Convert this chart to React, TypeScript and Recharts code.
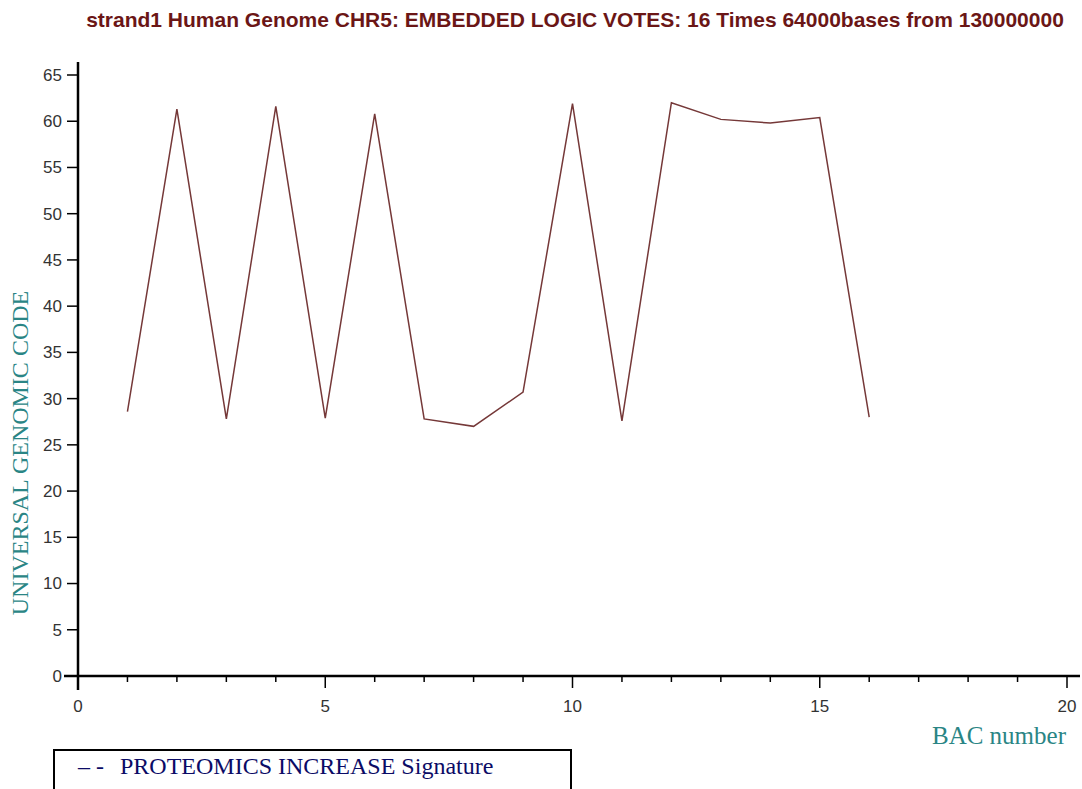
import React from "react";
import { LineChart, Line, XAxis, YAxis, Legend } from "recharts";

// BAC index along the chromosome window, votes
const bacNumbers = [1, 2, 3, 4, 5, 6, 7, 8, 9, 10, 11, 12, 13, 14, 15, 16];
const votes = [
  28.6, 61.3, 27.8, 61.6, 27.9, 60.8, 27.8, 27.0, 30.7, 61.9, 27.6, 62.0,
  60.2, 59.8, 60.4, 28.0,
];

const xTicks = [0, 1, 2, 3, 4, 5, 6, 7, 8, 9, 10, 11, 12, 13, 14, 15, 16, 17, 18, 19, 20];
const yTicks = [0, 5, 10, 15, 20, 25, 30, 35, 40, 45, 50, 55, 60, 65];

const title =
  "strand1 Human Genome CHR5: EMBEDDED LOGIC VOTES: 16 Times 64000bases from 130000000";
const seriesName = "PROTEOMICS INCREASE Signature";

const chartData = bacNumbers.map((bac, i) => ({ bac, votes: votes[i] }));

const tickFont = "'Liberation Sans', Arial, sans-serif";
const serif = "'Liberation Serif', 'Times New Roman', serif";

const XTick = (props: any) => {
  const { x, y, payload } = props;
  const v = payload.value;
  const major = v % 5 === 0;
  return (
    <g>
      <line x1={x} x2={x} y1={y} y2={y + (major ? 12 : 6)} stroke="#000" strokeWidth={1.5} />
      {v === 0 && <line x1={x} x2={x} y1={y} y2={y + 14} stroke="#000" strokeWidth={2.5} />}
      {v === 20 && <line x1={x} x2={x + 13} y1={y} y2={y} stroke="#000" strokeWidth={2.5} />}
      {major && (
        <text x={x} y={y + 36} textAnchor="middle" fill="#333" fontSize={17} fontFamily={tickFont}>
          {v}
        </text>
      )}
    </g>
  );
};

const YTick = (props: any) => {
  const { x, y, payload } = props;
  const v = payload.value;
  return (
    <g>
      <line x1={x - 11} x2={x} y1={y} y2={y} stroke="#000" strokeWidth={1.5} />
      {v === 0 && <line x1={x - 14} x2={x} y1={y} y2={y} stroke="#000" strokeWidth={2.5} />}
      {v === 65 && <line x1={x} x2={x} y1={y} y2={y - 13} stroke="#000" strokeWidth={2.5} />}
      <text x={x - 16} y={y} dy="0.35em" textAnchor="end" fill="#333" fontSize={17} fontFamily={tickFont}>
        {v}
      </text>
    </g>
  );
};

const LegendBox = (props: any) => {
  const item = props.payload && props.payload[0];
  return (
    <div
      style={{
        fontFamily: serif,
        fontSize: 24,
        lineHeight: "28px",
        color: "#0b0b66",
        paddingLeft: 23,
        paddingTop: 1,
        whiteSpace: "nowrap",
      }}
    >
      <span style={{ display: "inline-block", width: 42 }}>– -</span>
      {item ? item.value : seriesName}
    </div>
  );
};

export default function App() {
  return (
    <div style={{ position: "absolute", left: 0, top: 0, width: 1082, height: 789, background: "#fff" }}>
      <div
        style={{
          position: "absolute",
          left: 0,
          top: 8,
          width: 1150,
          textAlign: "center",
          fontFamily: tickFont,
          fontWeight: "bold",
          fontSize: 21,
          lineHeight: "24px",
          color: "#6b1616",
          whiteSpace: "nowrap",
          zIndex: 2,
        }}
      >
        {title}
      </div>
      <LineChart
        width={1082}
        height={789}
        data={chartData}
        margin={{ top: 75, right: 15, bottom: 0, left: 0 }}
      >
        <XAxis
          dataKey="bac"
          type="number"
          domain={[0, 20]}
          ticks={xTicks}
          interval={0}
          height={113}
          tickSize={0}
          tickMargin={0}
          tickLine={false}
          axisLine={{ stroke: "#000", strokeWidth: 2.5 }}
          tick={(p: any) => <XTick {...p} />}
          label={{
            content: (p: any) => {
              const vb = p.viewBox;
              return (
                <text
                  x={vb.x + vb.width - 1}
                  y={vb.y + 68}
                  textAnchor="end"
                  fill="#2a8585"
                  fontSize={25}
                  fontFamily={serif}
                >
                  BAC number
                </text>
              );
            },
          }}
        />
        <YAxis
          type="number"
          domain={[0, 65]}
          ticks={yTicks}
          interval={0}
          width={78}
          tickSize={0}
          tickMargin={0}
          tickLine={false}
          axisLine={{ stroke: "#000", strokeWidth: 2.5 }}
          tick={(p: any) => <YTick {...p} />}
          label={{
            content: () => (
              <text
                x={28}
                y={453}
                transform="rotate(-90, 28, 453)"
                textAnchor="middle"
                fill="#2a8585"
                fontSize={24}
                fontFamily={serif}
              >
                UNIVERSAL GENOMIC CODE
              </text>
            ),
          }}
        />
        <Legend
          layout="horizontal"
          verticalAlign="middle"
          align="center"
          wrapperStyle={{
            position: "absolute",
            left: 53,
            top: 749,
            width: 519,
            height: 60,
            border: "2px solid #000",
            boxSizing: "border-box",
            background: "#fff",
            textAlign: "left",
          }}
          content={(p: any) => <LegendBox {...p} />}
        />
        <Line
          type="linear"
          dataKey="votes"
          name={seriesName}
          stroke="#753838"
          strokeWidth={1.5}
          dot={false}
          activeDot={false}
          isAnimationActive={false}
        />
      </LineChart>
    </div>
  );
}
